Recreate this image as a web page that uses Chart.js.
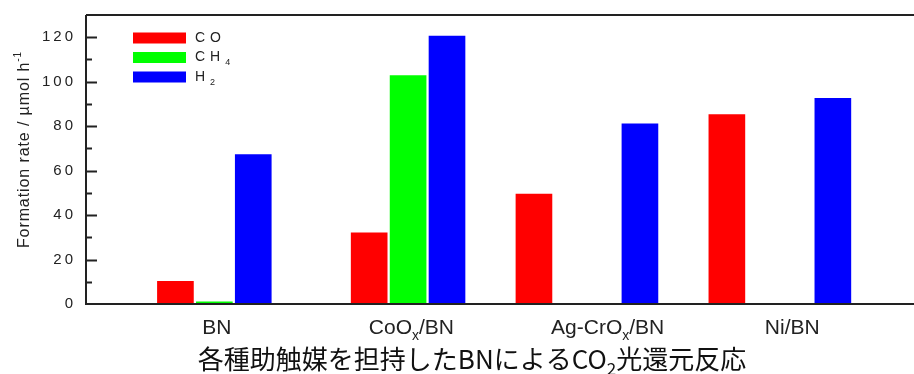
<!DOCTYPE html>
<html>
<head>
<meta charset="utf-8">
<script src="https://cdn.jsdelivr.net/npm/chart.js@4"></script>
<style>
  html, body { margin: 0; padding: 0; background: #fff; }
  #wrap { width: 914px; height: 374px; }
</style>
</head>
<body>
<div id="wrap"><canvas id="c" width="914" height="374"></canvas></div>
<script>
// Photocatalytic CO2 reduction over BN with various co-catalysts
// "_{...}" marks subscript text, "^{...}" superscript text.
const categories = ['BN', 'CoO_{x}/BN', 'Ag-CrO_{x}/BN', 'Ni/BN'];
const seriesNames = ['CO', 'CH_{4}', 'H_{2}'];
const seriesColors = ['#ff0000', '#00ff00', '#0000ff'];

// formation rates, µmol h-1
const coRate  = [10.2, 32.0, 49.5, 85.2];
const ch4Rate = [1.0, 102.8, null, null];
const h2Rate  = [67.2, 120.5, 81.0, 92.5];

// y axis tick values
const yTicks = [0, 20, 40, 60, 80, 100, 120];

// bar slots along the category axis (axis units 0..10)
const coSlot    = [1.08, 3.42, 5.41, 7.74];
const ch4Slot   = [1.55, 3.89, null, null];
const h2Slot    = [2.02, 4.36, 6.69, 9.02];
const labelSlot = [1.58, 3.93, 6.30, 8.53];

const yTitle = 'Formation rate / \u00b5mol h^{-1}';
const figTitle = '各種助触媒を担持したBNによるCO_{2}光還元反応';

function toPoints(slots, values) {
  const pts = [];
  slots.forEach((s, i) => {
    if (s !== null && values[i] !== null) pts.push({ x: s, y: values[i] });
  });
  return pts;
}

// draw a string with _{sub} / ^{sup} parts
function richText(ctx, str, x, y, size, family, align, spacing) {
  const parts = [];
  const re = /(_\{[^}]*\}|\^\{[^}]*\})/;
  str.split(re).forEach(p => {
    if (!p) return;
    if (p.startsWith('_{')) parts.push({ t: p.slice(2, -1), k: 'sub' });
    else if (p.startsWith('^{')) parts.push({ t: p.slice(2, -1), k: 'sup' });
    else parts.push({ t: p, k: 'n' });
  });
  const fontFor = k => (k === 'n' ? size : Math.round(size * 0.65)) + 'px ' + family;
  ctx.letterSpacing = (spacing || 0) + 'px';
  let total = 0;
  parts.forEach(p => { ctx.font = fontFor(p.k); p.w = ctx.measureText(p.t).width; total += p.w; });
  let cx = align === 'center' ? x - total / 2 : (align === 'right' ? x - total : x);
  ctx.textAlign = 'left';
  ctx.textBaseline = 'middle';
  parts.forEach(p => {
    ctx.font = fontFor(p.k);
    const dy = p.k === 'sub' ? size * 0.38 : (p.k === 'sup' ? -size * 0.4 : 0);
    ctx.fillText(p.t, cx, y + dy);
    cx += p.w;
  });
  ctx.letterSpacing = '0px';
}

const SANS = '"Liberation Sans", Arial, sans-serif';

const framePlugin = {
  id: 'frame',
  afterDatasetsDraw(chart) {
    const { ctx, chartArea: a, scales: { x, y } } = chart;
    ctx.save();
    ctx.strokeStyle = '#222';
    ctx.lineWidth = 2;
    ctx.beginPath();
    ctx.moveTo(a.left, a.top);
    ctx.lineTo(a.right, a.top);
    ctx.moveTo(a.left, a.top);
    ctx.lineTo(a.left, a.bottom);
    ctx.lineTo(a.right, a.bottom);
    ctx.stroke();

    // inward major and minor ticks on the left axis
    ctx.beginPath();
    yTicks.forEach(v => {
      if (v > 0) {
        const py = Math.round(y.getPixelForValue(v)) + 0.5;
        ctx.moveTo(a.left, py); ctx.lineTo(a.left + 11, py);
      }
      const m = v + 10;
      if (m < y.max) {
        const pm = Math.round(y.getPixelForValue(m)) + 0.5;
        ctx.moveTo(a.left, pm); ctx.lineTo(a.left + 6, pm);
      }
    });
    ctx.stroke();

    // legend inside the plot
    chart.data.datasets.forEach((ds, i) => {
      const cy = a.top + 23 + i * 19.5;
      ctx.fillStyle = ds.backgroundColor;
      ctx.fillRect(a.left + 47, cy - 5.5, 53, 11);
      ctx.fillStyle = '#222';
      richText(ctx, ds.label, a.left + 109, cy, 14, SANS, 'left', 5);
    });

    // category labels
    ctx.fillStyle = '#222';
    categories.forEach((c, i) => {
      richText(ctx, c, x.getPixelForValue(labelSlot[i]), a.bottom + 24, 21, SANS, 'center', 0);
    });

    // figure title
    ctx.fillStyle = '#111';
    richText(ctx, figTitle, 472, a.bottom + 55, 26, '"Noto Sans CJK JP", sans-serif', 'center', 0);

    // y axis title, rotated
    ctx.save();
    ctx.translate(25, (a.top + a.bottom) / 2 - 10);
    ctx.rotate(-Math.PI / 2);
    ctx.fillStyle = '#222';
    richText(ctx, yTitle, 0, 0, 16, SANS, 'center', 0.9);
    ctx.restore();

    ctx.restore();
  }
};

new Chart(document.getElementById('c'), {
  type: 'bar',
  data: {
    datasets: [
      { label: seriesNames[0], data: toPoints(coSlot, coRate),   backgroundColor: seriesColors[0] },
      { label: seriesNames[1], data: toPoints(ch4Slot, ch4Rate), backgroundColor: seriesColors[1] },
      { label: seriesNames[2], data: toPoints(h2Slot, h2Rate),   backgroundColor: seriesColors[2] }
    ]
  },
  options: {
    responsive: false,
    devicePixelRatio: 1,
    animation: false,
    layout: { padding: { top: 15, right: 0, bottom: 70, left: 0 } },
    datasets: { bar: { grouped: false, barThickness: 36, borderWidth: 0 } },
    plugins: { legend: { display: false }, tooltip: { enabled: false } },
    scales: {
      x: {
        type: 'linear',
        min: 0,
        max: 10,
        offset: false,
        display: false
      },
      y: {
        min: 0,
        max: 130,
        afterBuildTicks: s => { s.ticks = yTicks.map(v => ({ value: v })); },
        afterFit: s => { s.width = 86; s.paddingTop = 0; s.paddingBottom = 0; },
        grid: { display: false, drawTicks: false },
        border: { display: false },
        ticks: {
          padding: 13,
          color: '#222',
          font: { family: SANS, size: 15 },
          callback: v => String(v).split('').join('\u2009')
        }
      }
    }
  },
  plugins: [framePlugin]
});
</script>
</body>
</html>
